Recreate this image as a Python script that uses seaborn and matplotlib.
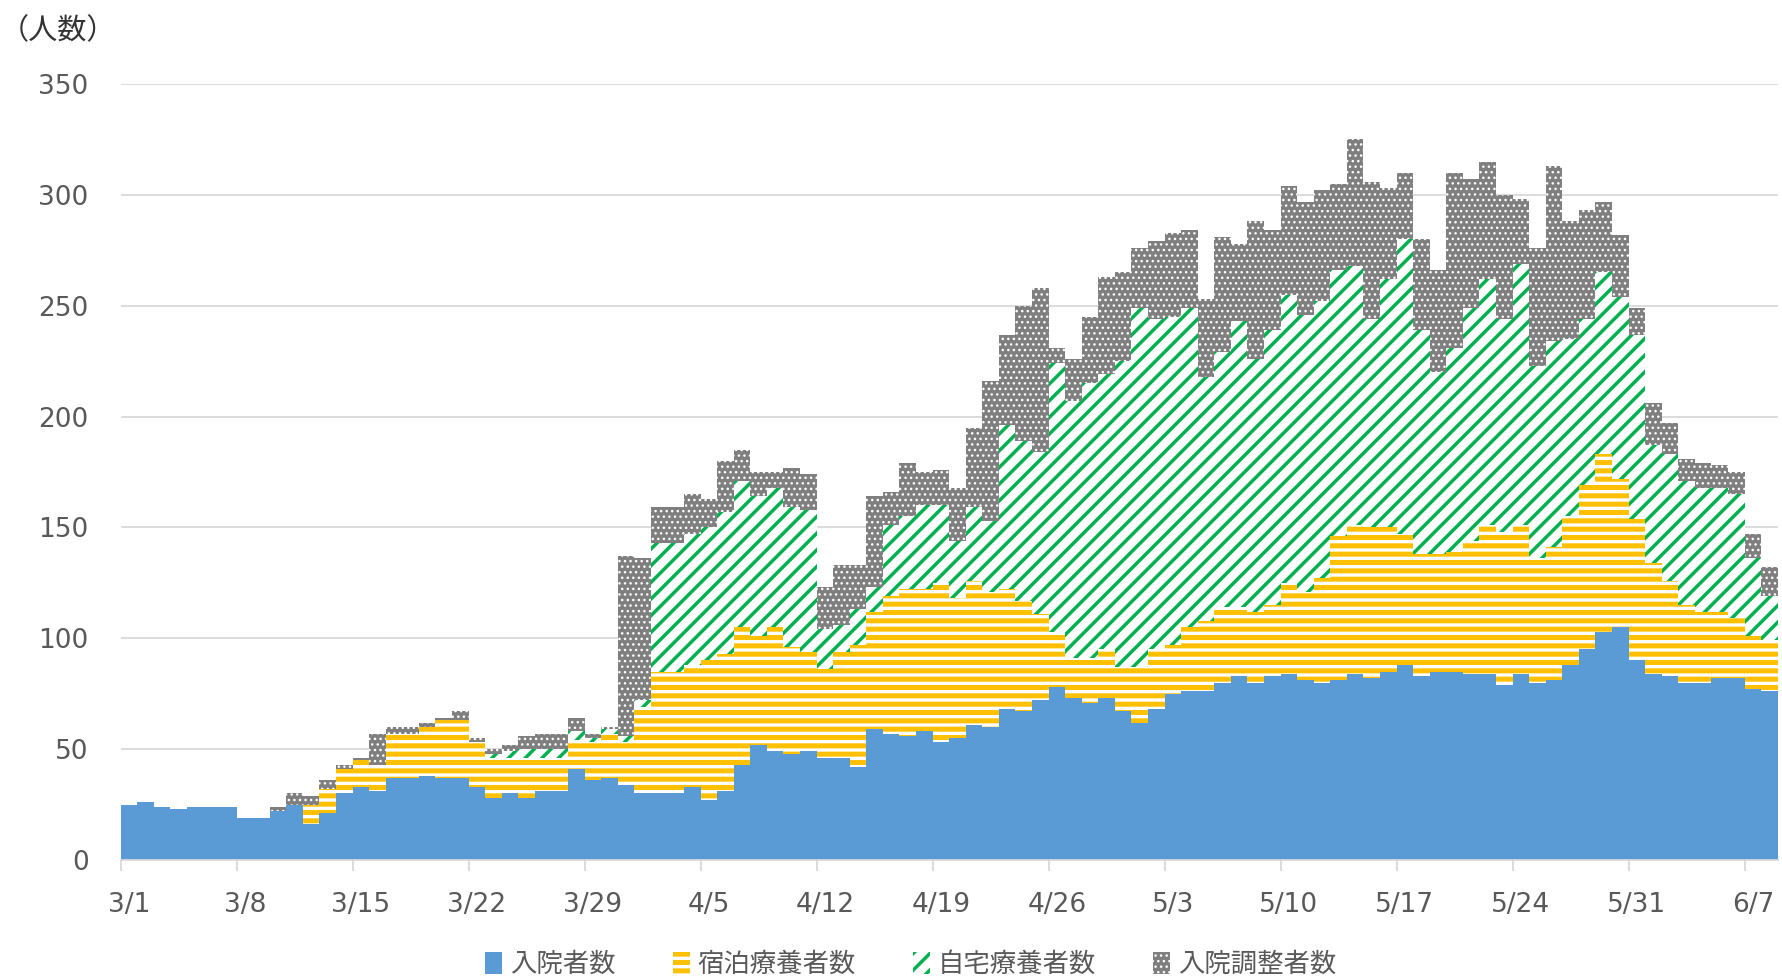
import numpy as np
import pandas as pd
import seaborn as sns
import matplotlib.pyplot as plt
from matplotlib.patches import Patch

# days 3/1 .. 6/8
days = [f"{d.month}/{d.day}" for d in pd.date_range("2021-03-01", "2021-06-08")]

# 入院者数
hospital = [25, 26, 24, 23, 24, 24, 24, 19, 19, 22,
            25, 16, 21, 30, 33, 31, 37, 37, 38, 37,
            37, 33, 28, 30, 28, 31, 31, 41, 36, 37,
            34, 30, 30, 30, 33, 27, 31, 43, 52, 49,
            48, 49, 46, 46, 42, 59, 57, 56, 58, 53,
            55, 61, 60, 68, 67, 72, 78, 73, 71, 73,
            67, 62, 68, 75, 76, 76, 80, 83, 80, 83,
            84, 81, 80, 81, 84, 82, 85, 88, 83, 85,
            85, 84, 84, 79, 84, 80, 81, 88, 95, 103,
            105, 90, 84, 83, 80, 80, 82, 82, 77, 76]
# 宿泊療養者数
hotel = [0, 0, 0, 0, 0, 0, 0, 0, 0, 0,
         0, 9, 11, 11, 12, 12, 20, 20, 22, 26,
         26, 20, 18, 16, 18, 15, 15, 13, 17, 20,
         19, 39, 55, 55, 55, 63, 62, 62, 49, 56,
         48, 45, 40, 48, 55, 53, 62, 66, 64, 72,
         63, 65, 61, 54, 50, 39, 25, 18, 20, 22,
         20, 25, 27, 22, 29, 32, 34, 31, 32, 32,
         41, 40, 47, 65, 67, 68, 65, 59, 55, 53,
         54, 60, 67, 69, 67, 56, 60, 67, 74, 80,
         67, 64, 50, 43, 35, 32, 30, 27, 24, 23]
# 自宅療養者数
home = [0, 0, 0, 0, 0, 0, 0, 0, 0, 0,
        0, 0, 0, 0, 0, 0, 0, 0, 0, 0,
        0, 0, 2, 3, 4, 4, 4, 4, 2, 2,
        3, 3, 58, 58, 59, 60, 64, 66, 63, 63,
        63, 64, 18, 12, 16, 11, 32, 33, 38, 35,
        26, 33, 32, 74, 72, 73, 121, 116, 124, 124,
        138, 162, 149, 148, 144, 110, 115, 129, 114, 124,
        130, 125, 125, 120, 117, 94, 112, 133, 101, 82,
        92, 105, 111, 96, 118, 87, 93, 80, 75, 82,
        82, 83, 53, 57, 56, 56, 56, 56, 35, 20]
# 入院調整者数
adjust = [0, 0, 0, 0, 0, 0, 0, 0, 0, 2,
          5, 4, 4, 2, 1, 14, 3, 3, 2, 1,
          4, 2, 2, 3, 6, 7, 7, 6, 2, 1,
          81, 64, 16, 16, 18, 13, 23, 14, 11, 7,
          18, 16, 19, 27, 20, 41, 15, 24, 15, 16,
          24, 36, 63, 41, 61, 74, 7, 19, 30, 44,
          40, 27, 35, 38, 35, 35, 52, 35, 62, 45,
          49, 51, 50, 39, 57, 62, 41, 30, 41, 46,
          79, 58, 53, 56, 29, 53, 79, 53, 49, 32,
          28, 12, 19, 14, 10, 11, 10, 10, 11, 13]

labels = ["入院者数", "宿泊療養者数", "自宅療養者数", "入院調整者数"]

sns.set_theme()
sns.set_style("white")
plt.rcParams['font.family'] = ['DejaVu Sans', 'Noto Sans CJK JP']

tick_col = '#595959'
grid_col = '#D9D9D9'

fig, ax = plt.subplots(figsize=(17.82, 9.76), dpi=100)
fig.subplots_adjust(left=0.0677, right=0.9976, bottom=0.1189, top=0.9139)

yellow_top = np.array(hospital) + np.array(hotel)
green_top = yellow_top + np.array(home)
total = green_top + np.array(adjust)

# series styles: face, hatch, hatch colour, hatch linewidth
styles = [
    ('#5B9BD5', None, '#5B9BD5', 1.0),
    ('white', '--', '#FFC000', 3.6),
    ('white', '//', '#00B050', 2.5),
    ('#7F7F7F', '...', 'white', 1.0),
]

# stacked by overdrawing the cumulative sums, tallest first
# (hatch linewidth is taken from rcParams when the patch is made)
for vals, (face, hatch, hcol, hlw) in zip([total, green_top, yellow_top, np.array(hospital)],
                                          styles[::-1]):
    plt.rcParams['hatch.linewidth'] = hlw
    sns.barplot(x=days, y=vals, color=face, saturation=1, width=1,
                edgecolor=hcol, linewidth=0, hatch=hatch,
                errorbar=None, ax=ax)

ax.set_ylim(0, 350)
ax.set_xlim(-0.5, 99.5)
ax.set_yticks(range(0, 351, 50))
ax.set_xticks(range(0, 100, 7))
ax.set_xticklabels(days[::7])
ax.set_xticks(np.arange(-0.5, 99, 7), minor=True)
ax.tick_params(axis='x', which='major', length=0, pad=23, labelsize=19, labelcolor=tick_col)
ax.tick_params(axis='x', which='minor', length=8, width=1.3, color=grid_col, bottom=True)
ax.tick_params(axis='y', length=0, pad=23, labelsize=19, labelcolor=tick_col)
ax.set_xlabel('')
ax.set_ylabel('')

ax.yaxis.grid(True, color=grid_col, linewidth=1.3)
ax.xaxis.grid(False)
ax.set_axisbelow(True)
for s in ['left', 'right', 'top']:
    ax.spines[s].set_visible(False)
ax.spines['bottom'].set_color(grid_col)
ax.spines['bottom'].set_linewidth(1.3)

fig.text(0.0, 1 - 31 / 976, '（人数）', fontsize=21, color='#333333',
         ha='left', va='center')

handles = []
for face, hatch, hcol, hlw in styles:
    plt.rcParams['hatch.linewidth'] = hlw
    handles.append(Patch(facecolor=face, edgecolor=hcol, hatch=hatch, linewidth=0))
leg = fig.legend(handles, labels, loc='center', bbox_to_anchor=(0.511, 0.0115),
                 ncol=4, frameon=False, fontsize=19, handlelength=0.65,
                 handleheight=0.95, handletextpad=0.3, columnspacing=2.15)
for t in leg.get_texts():
    t.set_color(tick_col)
# legend copies of the patches get the current rcParams width, so reset them
for p, st in zip(leg.get_patches(), styles):
    if hasattr(p, '_hatch_linewidth'):
        p._hatch_linewidth = st[3]

plt.savefig('out.png', dpi=100)
